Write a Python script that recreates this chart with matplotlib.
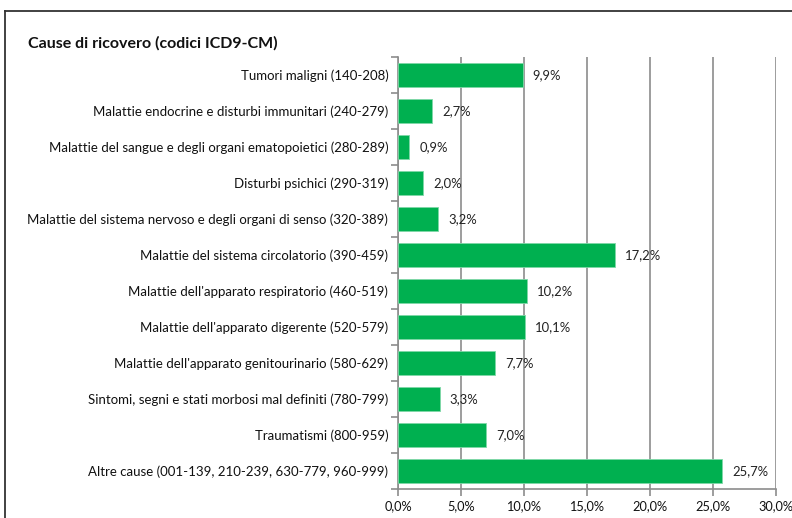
import numpy as np
import matplotlib
matplotlib.use("Agg")
import matplotlib.pyplot as plt
from matplotlib.lines import Line2D
from matplotlib.ticker import FuncFormatter, MultipleLocator

plt.rcParams['font.family'] = ['Lato', 'DejaVu Sans']

causes = [
    "Tumori maligni (140-208)",
    "Malattie endocrine e disturbi immunitari (240-279)",
    "Malattie del sangue e degli organi ematopoietici (280-289)",
    "Disturbi psichici (290-319)",
    "Malattie del sistema nervoso e degli organi di senso (320-389)",
    "Malattie del sistema circolatorio (390-459)",
    "Malattie dell'apparato respiratorio (460-519)",
    "Malattie dell'apparato digerente (520-579)",
    "Malattie dell'apparato genitourinario (580-629)",
    "Sintomi, segni e stati morbosi mal definiti (780-799)",
    "Traumatismi (800-959)",
    "Altre cause (001-139, 210-239, 630-779, 960-999)",
]
percent = [9.9, 2.7, 0.9, 2.0, 3.2, 17.2, 10.2, 10.1, 7.7, 3.3, 7.0, 25.7]

green = "#00b050"
grid_col = "#8c8c8c"

fig = plt.figure(figsize=(7.92, 5.18), dpi=100)
ax = fig.add_axes([0.5025, 0.056, 0.4773, 0.834])

y = np.arange(len(causes))
ax.barh(y, percent, height=0.64, color=green, edgecolor="#7fd8a7", linewidth=0.6, zorder=3)
for yi, v in zip(y, percent):
    ax.text(v + 0.8, yi, f"{v:.1f}%".replace(".", ","), va="center", ha="left",
            fontsize=9.4, color="#222222", zorder=4)

ax.set_ylim(len(causes) - 0.5, -0.5)
ax.set_xlim(0, 30)
ax.xaxis.set_major_locator(MultipleLocator(5))
ax.xaxis.set_major_formatter(FuncFormatter(lambda v, p: f"{v:.1f}%".replace(".", ",")))
ax.grid(axis="x", color=grid_col, linewidth=1.2, zorder=0)

ax.set_yticks(y)
ax.set_yticklabels(causes, fontsize=9.5, color="#111111")
ax.set_yticks(np.arange(len(causes) + 1) - 0.5, minor=True)
ax.tick_params(axis="y", which="major", length=0, pad=7)
ax.tick_params(axis="y", which="minor", length=5, color=grid_col, width=1.2)
ax.tick_params(axis="x", length=5, color=grid_col, width=1.2, labelsize=9.2, labelcolor="#111111", pad=3)

for s in ["top", "right"]:
    ax.spines[s].set_visible(False)
for s in ["left", "bottom"]:
    ax.spines[s].set_color(grid_col)
    ax.spines[s].set_linewidth(1.2)

fig.text(28 / 792, 1 - 43 / 518, "Cause di ricovero (codici ICD9-CM)", fontsize=11.5,
         fontweight="bold", va="center", ha="left", color="#111111")

# outer frame, cut on the right and bottom
fig.add_artist(Line2D([5 / 792, 1], [1 - 11 / 518] * 2, color="#333333", linewidth=1.3))
fig.add_artist(Line2D([5 / 792] * 2, [0, 1 - 11 / 518], color="#333333", linewidth=1.3))

fig.savefig("out.png", dpi=100)
